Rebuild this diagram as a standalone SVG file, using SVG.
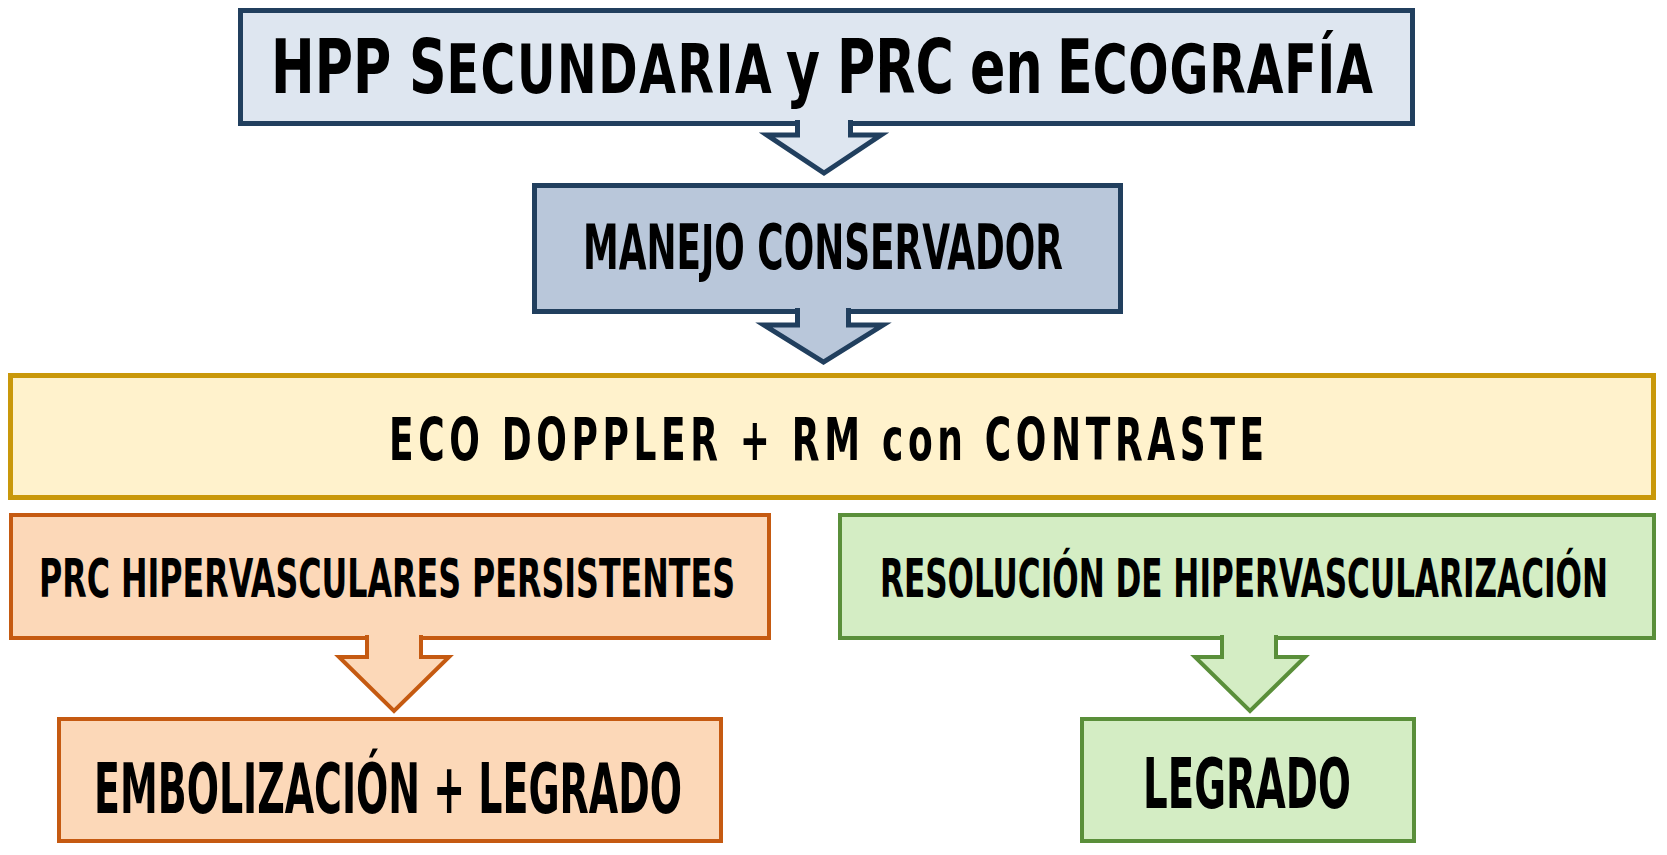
<svg xmlns="http://www.w3.org/2000/svg" width="1667" height="855" viewBox="0 0 1667 855">
<style>
.t{font-family:"DejaVu Sans Condensed","DejaVu Sans",sans-serif;font-weight:bold;font-stretch:condensed;fill:#000;}
.sc{font-size:52.7px;}
.navy{stroke:#213F5E;stroke-width:5;}
.c1{fill:#DEE6F0;}
.c2{fill:#B9C7DA;}
.eco{fill:#FFF2CC;stroke:#C9980A;stroke-width:5;}
.org{fill:#FCD8B8;stroke:#C55A11;stroke-width:4;}
.grn{fill:#D4EDC4;stroke:#5A8F3A;stroke-width:4;}
.arr{stroke-linejoin:miter;stroke-miterlimit:10;}
</style>
<rect width="1667" height="855" fill="#FFFFFF"/>
<g id="node-title">
<rect x="240.5" y="10.5" width="1172" height="113" class="c1 navy"/>
<text class="t" transform="scale(1,1.3)" y="71.54" font-size="58"><tspan x="271">HPP</tspan> <tspan x="409">S</tspan><tspan class="sc" letter-spacing="1.6">ECUNDARIA</tspan> <tspan x="786">y</tspan> <tspan x="837">PRC</tspan> <tspan x="970">en</tspan> <tspan x="1057">E</tspan><tspan class="sc" letter-spacing="0.9">COGRAFÍA</tspan></text>
</g>
<g id="node-manejo">
<rect x="534.5" y="185.5" width="586" height="126" class="c2 navy"/>
<text class="t" transform="scale(1,1.593)" x="583" y="168.86" font-size="39.6" textLength="480" lengthAdjust="spacingAndGlyphs">MANEJO CONSERVADOR</text>
</g>
<g id="node-eco">
<rect x="10.5" y="375.5" width="1643" height="122" class="eco"/>
<text class="t" transform="scale(1,1.47)" x="389" y="312.93" font-size="40" letter-spacing="4.8" textLength="880" lengthAdjust="spacing">ECO DOPPLER + RM con CONTRASTE</text>
</g>
<g id="node-prc">
<rect x="11" y="515" width="758" height="123" class="org"/>
<text class="t" transform="scale(1,1.524)" x="39" y="391.73" font-size="35.1" textLength="696" lengthAdjust="spacingAndGlyphs">PRC HIPERVASCULARES PERSISTENTES</text>
</g>
<g id="node-embol">
<rect x="59" y="719" width="662" height="122" class="org"/>
<text class="t" transform="scale(1,1.625)" x="94" y="500.31" font-size="42.2" textLength="588" lengthAdjust="spacingAndGlyphs">EMBOLIZACIÓN + LEGRADO</text>
</g>
<g id="node-resol">
<rect x="840" y="515" width="814" height="123" class="grn"/>
<text class="t" transform="scale(1,1.583)" x="880" y="377.13" font-size="33.8" textLength="728" lengthAdjust="spacingAndGlyphs">RESOLUCIÓN DE HIPERVASCULARIZACIÓN</text>
</g>
<g id="node-legrado">
<rect x="1082" y="719" width="332" height="122" class="grn"/>
<text class="t" transform="scale(1,1.591)" x="1143" y="507.86" font-size="43.1" textLength="208" lengthAdjust="spacingAndGlyphs">LEGRADO</text>
</g>
<g id="connectors">
<path class="c1 navy arr" d="M797.5,120 V135 H767 L824,173 L881,135 H850.5 V120"/>
<path class="c2 navy arr" d="M797.5,308 V325 H764 L823.5,362 L883,325 H848.5 V308"/>
<path class="org arr" d="M367,635 V657 H339 L394,711 L449,657 H421 V635"/>
<path class="grn arr" d="M1222,635 V657 H1195 L1250,711 L1305,657 H1276 V635"/>
</g>
</svg>
